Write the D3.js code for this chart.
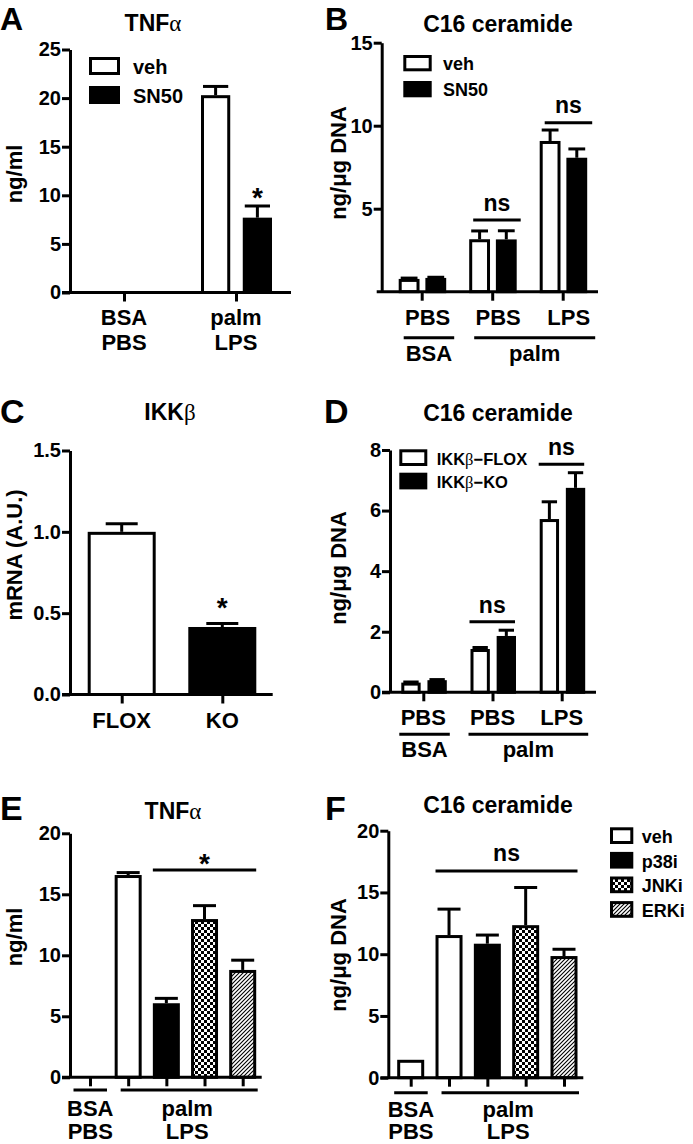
<!DOCTYPE html>
<html><head><meta charset="utf-8">
<script src="https://cdn.jsdelivr.net/npm/d3@7"></script>
<style>
body{margin:0;background:#fff}
text{font-family:"Liberation Sans",Arial,sans-serif;font-weight:bold;fill:#000}
</style></head><body><svg id="c" width="693" height="1144"></svg>
<script>
// ---------------- DATA ----------------
// Panel A
const seriesA = ["veh", "SN50"];
const groupsA = ["BSA|PBS", "palm|LPS"];
const vehA = [0, 20.3];
const vehAErr = [0, 0.9];
const sn50A = [0, 7.7];
const sn50AErr = [0, 1.2];
const ticksA = [0, 5, 10, 15, 20, 25];
// Panel B
const seriesB = ["veh", "SN50"];
const groupsB = ["BSA|PBS", "palm|PBS", "palm|LPS"];
const vehB = [0.77, 3.16, 9.08];
const vehBErr = [0.05, 0.5, 0.66];
const sn50B = [0.83, 3.15, 8.07];
const sn50BErr = [0.04, 0.52, 0.53];
const ticksB = [5, 10, 15];
// Panel C
const groupsC = ["FLOX", "KO"];
const mrnaC = [1.0, 0.415];
const mrnaCErr = [0.05, 0.022];
const ticksC = [0, 0.5, 1.0, 1.5];
// Panel D
const seriesD = ["IKKβ−FLOX", "IKKβ−KO"];
const groupsD = ["BSA|PBS", "palm|PBS", "palm|LPS"];
const floxD = [0.32, 1.43, 5.72];
const floxDErr = [0.02, 0.05, 0.57];
const koD = [0.4, 1.86, 6.75];
const koDErr = [0.02, 0.19, 0.5];
const ticksD = [0, 2, 4, 6, 8];
// Panel E / F
const seriesEF = ["veh", "p38i", "JNKi", "ERKi"];
const barsEF = ["BSA", "veh", "p38i", "JNKi", "ERKi"];
const barSeriesEF = ["veh", "veh", "p38i", "JNKi", "ERKi"];
const treatEF = ["BSA|PBS", "palm|LPS", "palm|LPS", "palm|LPS", "palm|LPS"];
const tnfE = [0, 16.58, 6.07, 12.97, 8.8];
const tnfEErr = [0, 0.2, 0.4, 1.1, 0.8];
const cerF = [1.45, 11.55, 10.85, 12.35, 9.85];
const cerFErr = [0, 2.1, 0.7, 3.05, 0.55];
const ticksEF = [0, 5, 10, 15, 20];

// ---------------- DRAW ----------------
const svg = d3.select("#c");
svg.append("rect").attr("width", 693).attr("height", 1144).attr("fill", "#fff");
const defs = svg.append("defs");
const chk = defs.append("pattern").attr("id", "chk").attr("patternUnits", "userSpaceOnUse").attr("width", 6).attr("height", 6);
chk.append("rect").attr("width", 6).attr("height", 6).attr("fill", "#fff");
chk.append("rect").attr("width", 3).attr("height", 3).attr("fill", "#000");
chk.append("rect").attr("x", 3).attr("y", 3).attr("width", 3).attr("height", 3).attr("fill", "#000");
const hat = defs.append("pattern").attr("id", "hatch").attr("patternUnits", "userSpaceOnUse").attr("width", 4).attr("height", 4);
hat.append("rect").attr("width", 4).attr("height", 4).attr("fill", "#fff");
hat.append("path").attr("d", "M-1,1 l2,-2 M0,4 l4,-4 M3,5 l2,-2").attr("stroke", "#000").attr("stroke-width", 1.1);

const fillOf = {"veh": "#fff", "SN50": "#000", "FLOX": "#fff", "KO": "#000", "IKKβ−FLOX": "#fff", "IKKβ−KO": "#000",
  "p38i": "#000", "JNKi": "url(#chk)", "ERKi": "url(#hatch)"};

function text(x, y, s, size, anchor, g) {
  return (g || svg).append("text").attr("x", x).attr("y", y).attr("font-size", size)
    .attr("text-anchor", anchor || "middle").text(s);
}
function greekText(x, y, main, greek, size, anchor) {
  const t = svg.append("text").attr("x", x).attr("y", y).attr("font-size", size).attr("text-anchor", anchor || "middle");
  t.append("tspan").text(main);
  t.append("tspan").attr("font-family", "'Liberation Serif','DejaVu Serif',serif").attr("font-weight", "normal").text(greek);
  return t;
}
function yTitle(x, y, s) {
  svg.append("text").attr("transform", `translate(${x},${y}) rotate(-90)`).attr("font-size", 22)
    .attr("text-anchor", "middle").text(s);
}

function drawPanel(p) {
  const g = svg.append("g");
  const y = d3.scaleLinear().domain([0, p.max]).range([p.y0, p.yTop]);
  const x = d3.scalePoint().domain(p.groups).range(p.groupRange);
  const inner = d3.scaleBand().domain(p.series).range(p.innerRange).paddingInner(p.pad || 0);
  const bw = inner.bandwidth();
  const bars = [];
  p.series.forEach((s, si) => p.groups.forEach((gr, gi) => {
    const v = p.values[si][gi];
    if (v == null) return;
    bars.push({s, gr, gi, v, e: p.errs[si][gi], fill: p.fill(s, gi), x0: x(gr) + inner(s)});
  }));
  g.selectAll("rect.bar").data(bars.filter(d => d.v > 0)).join("rect").attr("class", "bar")
    .attr("x", d => d.x0 + 1.5).attr("width", bw - 3)
    .attr("y", d => y(d.v) + 1.5).attr("height", d => p.y0 - y(d.v) - 1.5)
    .attr("fill", d => d.fill).attr("stroke", "#000").attr("stroke-width", 3);
  const eb = bars.filter(d => d.e > 0);
  g.selectAll("line.err").data(eb).join("line").attr("class", "err")
    .attr("x1", d => d.x0 + bw / 2).attr("x2", d => d.x0 + bw / 2)
    .attr("y1", d => y(d.v)).attr("y2", d => y(d.v + d.e))
    .attr("stroke", "#000").attr("stroke-width", 3);
  const cw = Math.min(bw - 4, 32);
  g.selectAll("line.cap").data(eb).join("line").attr("class", "cap")
    .attr("x1", d => d.x0 + bw / 2 - cw / 2).attr("x2", d => d.x0 + bw / 2 + cw / 2)
    .attr("y1", d => y(d.v + d.e)).attr("y2", d => y(d.v + d.e))
    .attr("stroke", "#000").attr("stroke-width", 3);
  // y axis
  const ya = g.append("g").attr("transform", `translate(${p.axisX},0)`)
    .call(d3.axisLeft(y).tickValues(p.ticks).tickFormat(p.fmt || d3.format("d")).tickSize(8).tickSizeOuter(0).tickPadding(1));
  ya.attr("font-family", null).attr("font-size", null);
  ya.select(".domain").attr("stroke", "#000").attr("stroke-width", 3);
  ya.selectAll(".tick line").attr("stroke", "#000").attr("stroke-width", 3);
  ya.selectAll(".tick text").attr("font-size", 20).attr("fill", "#000");
  // x axis
  g.append("line").attr("x1", p.xStart).attr("x2", p.xEnd).attr("y1", p.y0).attr("y2", p.y0)
    .attr("stroke", "#000").attr("stroke-width", 3);
  const xa = g.append("g").attr("transform", `translate(0,${p.y0})`)
    .call(d3.axisBottom(x).tickSize(9).tickSizeOuter(0).tickFormat(""));
  xa.select(".domain").remove();
  xa.selectAll(".tick line").attr("stroke", "#000").attr("stroke-width", 3);
  const ext = (grs) => {
    const bb = bars.filter(b => grs.includes(b.gr));
    return [d3.min(bb, b => b.x0), d3.max(bb, b => b.x0 + bw)];
  };
  const barExt = (gr, s) => { const b = bars.find(d => d.gr === gr && d.s === s); return [b.x0, b.x0 + bw, b]; };
  return {g, x, y, inner, bw, bars, ext, barExt};
}

function sigLine(P, fromGr, fromS, toGr, toS, yVal, label, shift, size, dy) {
  const a = P.barExt(fromGr, fromS), b = P.barExt(toGr, toS);
  const x1 = a[0] + shift, x2 = b[1] + shift;
  svg.append("line").attr("x1", x1).attr("x2", x2).attr("y1", P.y(yVal)).attr("y2", P.y(yVal))
    .attr("stroke", "#000").attr("stroke-width", 3);
  text((x1 + x2) / 2, P.y(yVal) + dy, label, size);
}

function legend(items, x, y0, step, bw, bh, size, tx) {
  items.forEach((s, i) => {
    svg.append("rect").attr("x", x + 1.5).attr("y", y0 + i * step + 1.5).attr("width", bw - 3).attr("height", bh - 3)
      .attr("fill", fillOf[s]).attr("stroke", "#000").attr("stroke-width", 3);
    const t = svg.append("text").attr("x", tx).attr("y", y0 + i * step + bh - 1).attr("font-size", size);
    if (s.includes("β")) {
      const parts = s.split("β");
      t.append("tspan").text(parts[0]);
      t.append("tspan").attr("font-family", "'Liberation Serif','DejaVu Serif',serif").attr("font-weight", "normal").text("β");
      t.append("tspan").text(parts[1]);
    } else t.text(s);
  });
}

// ===== Panel A =====
const PA = drawPanel({axisX: 70, y0: 292.5, yTop: 49.5, max: 25, ticks: ticksA,
  groups: groupsA, groupRange: [124, 236], series: seriesA, innerRange: [-35, 36], pad: 0.3,
  values: [vehA, sn50A], errs: [vehAErr, sn50AErr], fill: s => fillOf[s], xStart: 62, xEnd: 291});
groupsA.forEach(gr => { const [l1, l2] = gr.split("|"); text(PA.x(gr), 325, l1, 22); text(PA.x(gr), 350, l2, 22); });
text(PA.barExt("palm|LPS", "SN50")[0] + PA.bw / 2, PA.y(8.8), "*", 28);
legend(seriesA, 89, 57, 29, 31, 18, 20, 133);
greekText(153, 31, "TNF", "α", 23);
yTitle(22, 174, "ng/ml");
text(0, 29.5, "A", 32, "start");

// ===== Panel B =====
const PB = drawPanel({axisX: 381.7, y0: 291.7, yTop: 42.7, max: 15, ticks: ticksB,
  groups: groupsB, groupRange: [421.7, 562.7], series: seriesB, innerRange: [-23, 24.5], pad: 0.22,
  values: [vehB, sn50B], errs: [vehBErr, sn50BErr], fill: s => fillOf[s], xStart: 376.7, xEnd: 598});
groupsB.forEach(gr => text(PB.x(gr) + 6, 325, gr.split("|")[1], 22));
["BSA", "palm"].forEach(t => {
  const grs = groupsB.filter(g => g.startsWith(t + "|"));
  const [l, r] = PB.ext(grs);
  const x1 = l + 5, x2 = r + 8;
  svg.append("line").attr("x1", x1).attr("x2", x2).attr("y1", 337.7).attr("y2", 337.7).attr("stroke", "#000").attr("stroke-width", 3);
  text((x1 + x2) / 2, 361, t, 22);
});
sigLine(PB, "palm|PBS", "veh", "palm|PBS", "SN50", 4.32, "ns", 4, 23, -8.5);
sigLine(PB, "palm|LPS", "veh", "palm|LPS", "SN50", 10.18, "ns", 5, 23, -9.5);
legend(seriesB, 403.3, 55, 26, 28.4, 16.3, 18, 443);
text(498, 31.5, "C16 ceramide", 23);
yTitle(346, 163, "ng/μg DNA");
text(325, 29.5, "B", 32, "start");

// ===== Panel C =====
const PC = drawPanel({axisX: 70, y0: 694.5, yTop: 450.5, max: 1.5, ticks: ticksC, fmt: d3.format(".1f"),
  groups: groupsC, groupRange: [121.7, 222.3], series: ["mRNA"], innerRange: [-34, 34], pad: 0,
  values: [mrnaC], errs: [mrnaCErr], fill: (s, i) => fillOf[groupsC[i]], xStart: 62, xEnd: 272.7});
groupsC.forEach(gr => text(PC.x(gr), 728, gr, 22));
text(PC.x("KO"), PC.y(0.476), "*", 28);
greekText(170, 420, "IKK", "β", 23);
yTitle(22, 555, "mRNA (A.U.)");
text(0, 423, "C", 34, "start");

// ===== Panel D =====
const PD = drawPanel({axisX: 390, y0: 692.3, yTop: 450, max: 8, ticks: ticksD,
  groups: groupsD, groupRange: [423.3, 561.7], series: seriesD, innerRange: [-22, 23.5], pad: 0.26,
  values: [floxD, koD], errs: [floxDErr, koDErr], fill: s => fillOf[s], xStart: 382, xEnd: 596});
groupsD.forEach(gr => text(PD.x(gr), 724.5, gr.split("|")[1], 22));
["BSA", "palm"].forEach(t => {
  const grs = groupsD.filter(g => g.startsWith(t + "|"));
  const [l, r] = PD.ext(grs);
  const x1 = l - 2, x2 = r + 3;
  svg.append("line").attr("x1", x1).attr("x2", x2).attr("y1", 734.3).attr("y2", 734.3).attr("stroke", "#000").attr("stroke-width", 3);
  text((x1 + x2) / 2, 757, t, 22);
});
sigLine(PD, "palm|PBS", "IKKβ−FLOX", "palm|PBS", "IKKβ−KO", 2.33, "ns", -1, 23, -8.7);
sigLine(PD, "palm|LPS", "IKKβ−FLOX", "palm|LPS", "IKKβ−KO", 7.53, "ns", -1, 23, -9.3);
legend(seriesD, 399.3, 449.3, 23.4, 28, 16.7, 16.5, 436.7);
text(498, 420.5, "C16 ceramide", 23);
yTitle(346, 568, "ng/μg DNA");
text(324, 423, "D", 34, "start");

// ===== Panels E & F =====
function efBrackets(P, yLine, yL1, yL2) {
  ["BSA|PBS", "palm|LPS"].forEach(t => {
    const grs = barsEF.filter((b, i) => treatEF[i] === t);
    const [l, r] = P.ext(grs);
    const multi = grs.length > 1;
    const x1 = multi ? l + 6 : l - 3, x2 = multi ? r + 1.5 : r + 3.5;
    svg.append("line").attr("x1", x1).attr("x2", x2).attr("y1", yLine).attr("y2", yLine).attr("stroke", "#000").attr("stroke-width", 3);
    const [a, b] = t.split("|");
    const cx = (x1 + x2) / 2 - (multi ? 2 : 0);
    text(cx, yL1, a, 22); text(cx, yL2, b, 22);
  });
}
const PE = drawPanel({axisX: 70, y0: 1077.3, yTop: 833.3, max: 20, ticks: ticksEF,
  groups: barsEF, groupRange: [90, 242.7], series: ["v"], innerRange: [-13.5, 13.5], pad: 0,
  values: [tnfE], errs: [tnfEErr], fill: (s, i) => fillOf[barSeriesEF[i]], xStart: 62, xEnd: 261.7});
efBrackets(PE, 1090, 1115.5, 1139.3);
sigLine(PE, "p38i", "v", "ERKi", "v", 17, "*", 0, 28, 3);
greekText(173, 818.5, "TNF", "α", 23);
yTitle(22, 937, "ng/ml");
text(0, 820, "E", 34, "start");

const PF = drawPanel({axisX: 388.3, y0: 1077.7, yTop: 830.7, max: 20, ticks: ticksEF,
  groups: barsEF, groupRange: [410.7, 564], series: ["v"], innerRange: [-13.5, 13.5], pad: 0,
  values: [cerF], errs: [cerFErr], fill: (s, i) => fillOf[barSeriesEF[i]], xStart: 380.5, xEnd: 583.3});
efBrackets(PF, 1092.7, 1116.5, 1139.3);
sigLine(PF, "veh", "v", "ERKi", "v", 16.74, "ns", 0, 23, -10);
legend(seriesEF, 610, 827.3, 24.6, 23.3, 16.7, 18, 641.7);
text(498, 813, "C16 ceramide", 23);
yTitle(346, 955, "ng/μg DNA");
text(325, 820, "F", 34, "start");
</script></body></html>
